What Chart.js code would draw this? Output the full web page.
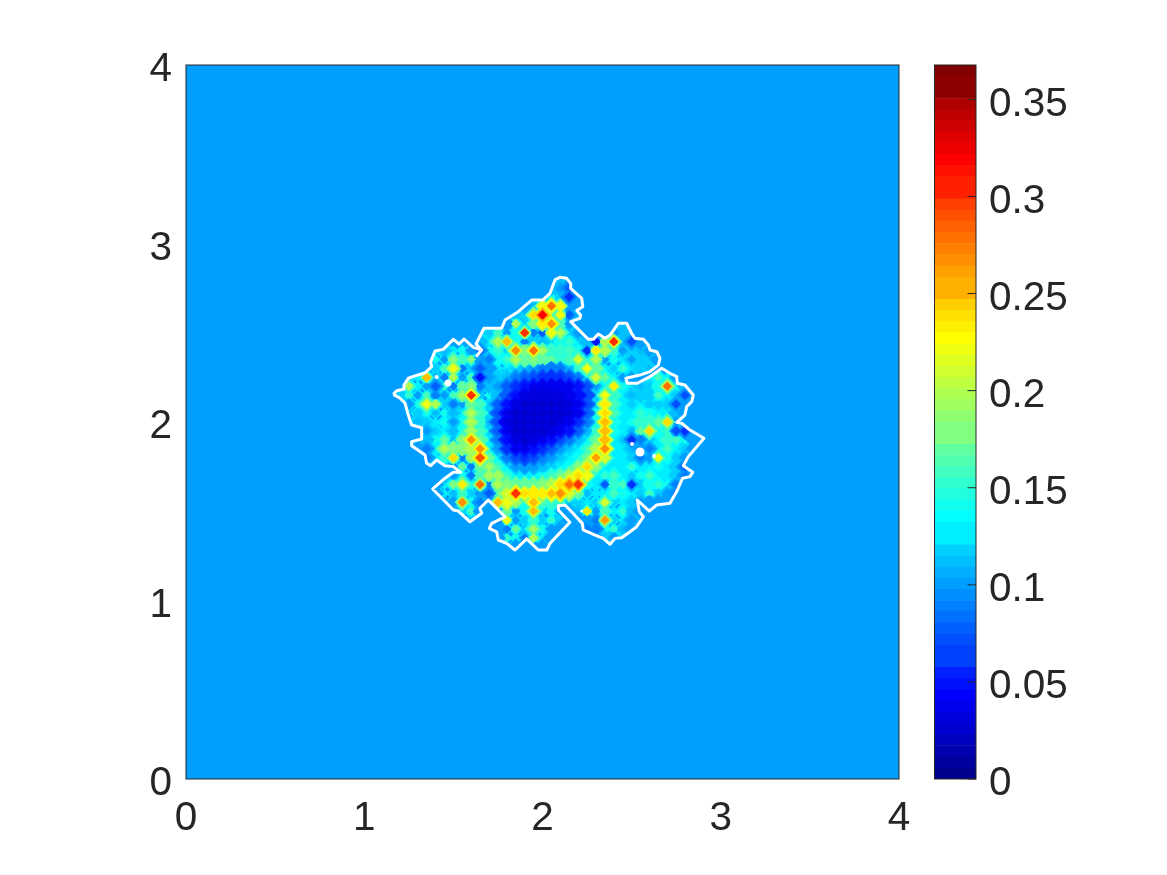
<!DOCTYPE html>
<html><head><meta charset="utf-8">
<style>html,body{margin:0;padding:0;background:#fff;overflow:hidden}
canvas{position:absolute;top:0}</style>
<script src="https://cdn.jsdelivr.net/npm/chart.js@4"></script></head>
<body>
<canvas id="main" style="left:0" width="920" height="875"></canvas>
<canvas id="bar" style="left:920px" width="247" height="875"></canvas>
<script>
const axisTicks = [0,1,2,3,4];
const colorMax = 0.3677;
const colorTicks = [0,0.05,0.1,0.15,0.2,0.25,0.3,0.35];
const backgroundValue = 0.10;
const baseValue = 0.13;
const cellStep = 0.05;
const gridX = [1.15,1.20,1.25,1.30,1.35,1.40,1.45,1.50,1.55,1.60,1.65,1.70,1.75,1.80,1.85,1.90,1.95,2.00,2.05,2.10,2.15,2.20,2.25,2.30,2.35,2.40,2.45,2.50,2.55,2.60,2.65,2.70,2.75,2.80,2.85,2.90];
const gridY = [2.80,2.75,2.70,2.65,2.60,2.55,2.50,2.45,2.40,2.35,2.30,2.25,2.20,2.15,2.10,2.05,2.00,1.95,1.90,1.85,1.80,1.75,1.70,1.65,1.60,1.55,1.50,1.45,1.40,1.35,1.30];
const rowStart = [19,18,17,15,14,13,11,10,5,5,5,2,2,1,2,3,3,4,3,3,4,7,6,5,5,7,8,9,11,12,14];
const r280=[.11];
const r275=[.11,.10,.08];
const r270=[.11,.14,.12,.06,.10];
const r265=[.10,.11,.22,.28,.22,.10,.10];
const r260=[.11,.12,.24,.32,.14,.22,.08,.11];
const r255=[.10,.20,.12,.18,.23,.27,.16,.10];
const r250=[.12,.16,.10,.14,.30,.09,.08,.22,.20,.12,.10,.10,.10,.10,.10,.11];
const r245=[.11,.13,.20,.25,.14,.09,.12,.11,.12,.14,.15,.13,.11,.05,.20,.30,.11,.07,.10];
const r240=[.13,.11,.13,.14,.10,.08,.14,.15,.12,.27,.18,.28,.19,.15,.15,.16,.14,.06,.23,.20,.15,.10,.12,.11,.10];
const r235=[.14,.10,.18,.16,.18,.10,.09,.14,.15,.20,.17,.18,.17,.17,.15,.16,.21,.13,.20,.10,.14,.13,.10,.12,.12,.10];
const r230=[.12,.16,.22,.09,.12,.08,.10,.13,.13,.12,.11,.10,.09,.09,.09,.11,.15,.22,.17,.13,.12,.15,.13,.12,.11];
const r225=[.12,.13,.25,.11,.09,.20,.10,.16,.05,.10,.12,.11,.09,.08,.07,.06,.06,.06,.07,.09,.14,.21,.17,.13,.10,.10,.10,.13,.16,.13,.10];
const r220=[.20,.13,.10,.08,.15,.09,.17,.18,.09,.11,.10,.08,.06,.05,.04,.04,.04,.04,.04,.05,.07,.10,.13,.23,.14,.13,.11,.12,.14,.28,.14,.11];
const r215=[.12,.15,.10,.16,.09,.10,.16,.19,.30,.11,.14,.11,.08,.05,.03,.03,.03,.03,.03,.04,.05,.07,.12,.22,.15,.13,.11,.12,.12,.16,.13,.12,.07,.10];
const r210=[.10,.14,.22,.20,.12,.09,.10,.17,.16,.12,.08,.05,.03,.025,.025,.025,.025,.025,.03,.04,.07,.12,.23,.16,.13,.12,.13,.12,.12,.12,.07,.10];
const r205=[.12,.14,.11,.14,.11,.13,.20,.16,.12,.07,.04,.025,.025,.025,.025,.025,.025,.03,.04,.08,.14,.24,.16,.13,.13,.15,.14,.13,.13,.11,.10];
const r200=[.11,.12,.13,.14,.10,.14,.20,.15,.11,.07,.03,.025,.025,.025,.025,.025,.03,.04,.06,.09,.14,.25,.14,.13,.14,.15,.15,.17,.24,.10];
const r195=[.10,.12,.13,.11,.14,.19,.16,.12,.08,.04,.025,.025,.025,.025,.03,.04,.05,.08,.11,.15,.25,.14,.13,.11,.17,.24,.14,.15,.07,.06];
const r190=[.11,.11,.14,.17,.11,.18,.27,.17,.13,.09,.05,.03,.025,.03,.04,.05,.07,.09,.11,.13,.17,.25,.13,.12,.06,.09,.12,.13,.15,.16,.14,.10];
const r185=[.10,.09,.13,.20,.18,.18,.20,.27,.13,.10,.06,.04,.04,.05,.06,.08,.10,.12,.13,.15,.20,.27,.13,.13,.11,.10,.09,.13,.16,.13,.12,.10];
const r180=[.09,.13,.15,.24,.09,.19,.29,.17,.13,.09,.07,.06,.07,.09,.10,.12,.13,.14,.17,.26,.21,.13,.13,.12,.09,.10,.22,.14,.12,.10];
const r175=[.10,.17,.09,.17,.19,.15,.13,.10,.10,.10,.11,.12,.13,.14,.18,.24,.18,.13,.13,.13,.15,.13,.13,.14,.13,.12,.08];
const r170=[.11,.10,.14,.09,.16,.19,.19,.15,.13,.13,.13,.14,.15,.17,.20,.24,.22,.13,.15,.16,.13,.12,.14,.16,.13,.13,.12,.09];
const r165=[.10,.13,.18,.23,.14,.28,.09,.20,.18,.17,.17,.17,.18,.20,.24,.28,.30,.14,.13,.08,.15,.16,.06,.12,.14,.15,.14,.09];
const r160=[.10,.13,.11,.15,.12,.10,.08,.16,.21,.30,.24,.23,.23,.25,.27,.21,.17,.11,.13,.13,.16,.14,.13,.12,.16,.12,.10,.09];
const r155=[.10,.27,.14,.09,.10,.25,.22,.19,.14,.25,.16,.15,.15,.12,.12,.13,.12,.21,.12,.13,.12,.10,.10,.10,.10];
const r150=[.12,.16,.10,.10,.10,.17,.10,.14,.25,.12,.14,.10,.10,.11,.23,.10,.16,.13,.15,.11,.10];
const r145=[.12,.10,.10,.09,.22,.10,.12,.15,.12,.15,.12,.10,.10,.10,.09,.26,.12,.13,.10];
const r140=[.08,.10,.09,.17,.12,.19,.14,.10,.10,.10,.10,.09,.09,.14,.15,.11,.10];
const r135=[.10,.15,.14,.09,.20,.13,.10,.10,.10,.10,.10,.10,.12,.10];
const r130=[.10,.09,.10,.10];
const cellRows = [r280,r275,r270,r265,r260,r255,r250,r245,r240,r235,r230,r225,r220,r215,r210,r205,r200,r195,r190,r185,r180,r175,r170,r165,r160,r155,r150,r145,r140,r135,r130];
const contourX = [1.163,1.182,1.219,1.223,1.247,1.285,1.341,1.378,1.373,1.397,1.443,1.500,1.532,1.560,1.612,1.659,1.631,1.659,1.627,1.672,1.771,1.790,1.864,1.939,2.001,2.042,2.070,2.098,2.136,2.158,2.158,2.220,2.226,2.192,2.214,2.210,2.158,2.257,2.285,2.313,2.351,2.379,2.425,2.472,2.500,2.519,2.566,2.594,2.603,2.641,2.659,2.650,2.603,2.547,2.468,2.476,2.532,2.603,2.669,2.715,2.753,2.756,2.799,2.846,2.837,2.809,2.799,2.753,2.781,2.827,2.906,2.818,2.790,2.843,2.827,2.786,2.753,2.715,2.641,2.599,2.532,2.543,2.566,2.528,2.491,2.444,2.407,2.379,2.341,2.285,2.229,2.223,2.154,2.126,2.089,2.089,2.154,2.042,2.024,1.976,1.911,1.846,1.799,1.752,1.743,1.702,1.715,1.790,1.696,1.649,1.659,1.593,1.528,1.500,1.384,1.453,1.500,1.541,1.500,1.453,1.406,1.373,1.350,1.341,1.266,1.266,1.322,1.322,1.266,1.247,1.229,1.201,1.163];
const contourY = [2.155,2.175,2.183,2.207,2.245,2.258,2.276,2.310,2.338,2.398,2.407,2.463,2.437,2.465,2.418,2.403,2.371,2.403,2.437,2.525,2.525,2.571,2.618,2.683,2.683,2.721,2.796,2.811,2.805,2.777,2.749,2.693,2.646,2.624,2.599,2.581,2.562,2.463,2.463,2.493,2.469,2.487,2.553,2.553,2.497,2.469,2.463,2.431,2.403,2.394,2.357,2.319,2.282,2.263,2.245,2.217,2.217,2.254,2.301,2.273,2.254,2.217,2.207,2.151,2.114,2.086,2.039,1.998,1.993,1.955,1.909,1.806,1.755,1.718,1.694,1.685,1.610,1.545,1.535,1.501,1.563,1.497,1.469,1.413,1.385,1.352,1.348,1.315,1.348,1.371,1.395,1.432,1.507,1.535,1.531,1.507,1.438,1.320,1.283,1.283,1.345,1.283,1.320,1.339,1.385,1.404,1.432,1.469,1.563,1.517,1.489,1.441,1.501,1.507,1.625,1.685,1.718,1.718,1.750,1.755,1.787,1.755,1.769,1.815,1.867,1.890,1.905,1.968,1.983,2.039,2.105,2.133,2.155];
const holeX = [1.406,1.470,2.502,2.547,2.626,2.220];
const holeY = [2.252,2.218,1.877,1.832,1.810,1.501];
const holeSize = [2,3.5,2,4.5,2,1.5];

const INK = '#262626';
const FONT = {family:'"Liberation Sans", Arial, sans-serif', size:40.5};

function jet(v){
  let k = Math.ceil(v/colorMax*64); k = Math.min(64,Math.max(1,k));
  const t = k/64;
  const ch = c => Math.round(255*Math.min(1,Math.max(0,1.5-Math.abs(4*t-c))));
  return `rgb(${ch(3)},${ch(2)},${ch(1)})`;
}
function cellAt(r,c){
  const row = cellRows[r]; if(!row) return backgroundValue;
  const v = row[c-rowStart[r]];
  return v===undefined ? backgroundValue : v;
}
// Each cell is drawn as nested diamonds stepping through the colour map from the
// base level to its value, so that neighbouring cells shade into each other.
const shade = [];
const LEVEL = 0.006;
cellRows.forEach((row,r)=>row.forEach((v,i)=>{
  const c = rowStart[r]+i, sign = v>=baseValue?1:-1;
  const around = [cellAt(r-1,c),cellAt(r+1,c),cellAt(r,c-1),cellAt(r,c+1)];
  const n = Math.max(1,Math.ceil(Math.abs(v-baseValue)/LEVEL));
  for(let j=0;j<=n;j++){
    const L = baseValue+(v-baseValue)*j/n;
    let sum=0;
    around.forEach(a=>{
      const beyond = sign>0 ? a>=L : a<=L;
      sum += beyond ? 1 : Math.abs(v-L)/Math.max(1e-6,Math.abs(v-a));
    });
    shade.push({x:gridX[c],y:gridY[r],v:L,r:Math.max(0.42,sum/4)*1.15});
  }
}));
shade.sort((a,b)=>Math.abs(a.v-baseValue)-Math.abs(b.v-baseValue));

function frame(name, opts){
  return {id:'frame'+name,
    beforeDraw(c){
      if(opts.fill){const a=c.chartArea;c.ctx.save();c.ctx.fillStyle=opts.fill;c.ctx.fillRect(a.left,a.top,a.right-a.left,a.bottom-a.top);c.ctx.restore();}
    },
    afterDraw(c){
      const a=c.chartArea, x=c.ctx; x.save(); x.strokeStyle=INK; x.lineWidth=1;
      x.strokeRect(a.left,a.top,a.right-a.left,a.bottom-a.top);
      x.beginPath();
      if(opts.ticks) opts.ticks(c,x,a);
      x.stroke(); x.restore();
    }};
}
const CELLS = 2;
const clipToContour = {id:'clipToContour',
  beforeDatasetDraw(c,args){
    if(args.index!==CELLS) return;
    const x=c.ctx; x.save(); x.beginPath();
    contourX.forEach((v,i)=>{
      const px=c.scales.x.getPixelForValue(v), py=c.scales.y.getPixelForValue(contourY[i]);
      i?x.lineTo(px,py):x.moveTo(px,py);
    });
    x.closePath(); x.clip();
  },
  afterDatasetDraw(c,args){ if(args.index===CELLS){c.ctx.restore();} }
};
function shiftLabels(dy){
  return s=>{
    if(s._shifted) return;
    s._shifted = true;
    const f = s._computeLabelItems.bind(s);
    s._computeLabelItems = a => f(a).map(it=>{it.textOffset += dy; return it;});
  };
}
function noPad(s){ s.paddingLeft=0; s.paddingRight=0; s.paddingTop=0; s.paddingBottom=0; }

new Chart(document.getElementById('main'),{
  type:'scatter',
  data:{datasets:[
    {data:contourX.map((x,i)=>({x,y:contourY[i]})), showLine:true, pointRadius:0, borderColor:'#fff', borderWidth:3, tension:0, borderJoinStyle:'round', fill:false},
    {data:holeX.map((x,i)=>({x,y:holeY[i]})), pointStyle:'circle', pointRadius:c=>holeSize[c.dataIndex], pointBackgroundColor:'#fff', pointBorderWidth:0},
    {data:shade, pointStyle:'rectRot', borderWidth:0, pointBorderWidth:0,
     pointRadius:c=>{
       const s=c.chart.scales.x, step=Math.abs(s.getPixelForValue(cellStep)-s.getPixelForValue(0));
       return step*c.raw.r;
     },
     pointBackgroundColor:c=>jet(c.raw.v)}
  ]},
  options:{responsive:false,animation:false,
    layout:{padding:{top:65,right:21,left:0,bottom:0}},
    plugins:{legend:{display:false},tooltip:{enabled:false}},
    scales:{
      x:{type:'linear',min:0,max:4,afterFit:s=>{s.height=96;noPad(s);},
        afterBuildTicks:s=>{s.ticks=axisTicks.map(value=>({value}));},
        border:{display:false},grid:{display:false,drawTicks:false},
        ticks:{color:INK,font:FONT,padding:16,maxRotation:0,callback:v=>String(v)}},
      y:{type:'linear',min:0,max:4,afterFit:s=>{s.width=186;noPad(s);},
        afterBuildTicks:s=>{s.ticks=axisTicks.map(value=>({value}));},
        afterUpdate:shiftLabels(5),
        border:{display:false},grid:{display:false,drawTicks:false},
        ticks:{color:INK,font:FONT,padding:14,callback:v=>String(v)}}
    }},
  plugins:[clipToContour, frame('main',{fill:jet(backgroundValue)})]
});

const levels = Array.from({length:64},(_,i)=>i+1);
new Chart(document.getElementById('bar'),{
  type:'bar',
  data:{labels:['c'],datasets:levels.map(k=>({data:[colorMax/64],backgroundColor:jet(k/64*colorMax),borderWidth:0,barPercentage:1,categoryPercentage:1}))},
  options:{responsive:false,animation:false,
    layout:{padding:{top:65,left:14.5,right:0,bottom:0}},
    plugins:{legend:{display:false},tooltip:{enabled:false}},
    scales:{
      x:{stacked:true,display:true,afterFit:s=>{s.height=96;noPad(s);},border:{display:false},grid:{display:false,drawTicks:false},ticks:{display:false}},
      y:{stacked:true,position:'right',min:0,max:colorMax,afterFit:s=>{s.width=191;noPad(s);},
        afterBuildTicks:s=>{s.ticks=colorTicks.map(value=>({value}));},
        afterUpdate:shiftLabels(5),
        border:{display:false},grid:{display:false,drawTicks:false},
        ticks:{color:INK,font:FONT,padding:13,callback:v=>String(v)}}
    }},
  plugins:[frame('bar',{ticks:(c,x,a)=>{
    colorTicks.forEach(t=>{const py=c.scales.y.getPixelForValue(t);x.moveTo(a.right,py);x.lineTo(a.right-8.5,py);});
  }})]
});
</script>
</body></html>
